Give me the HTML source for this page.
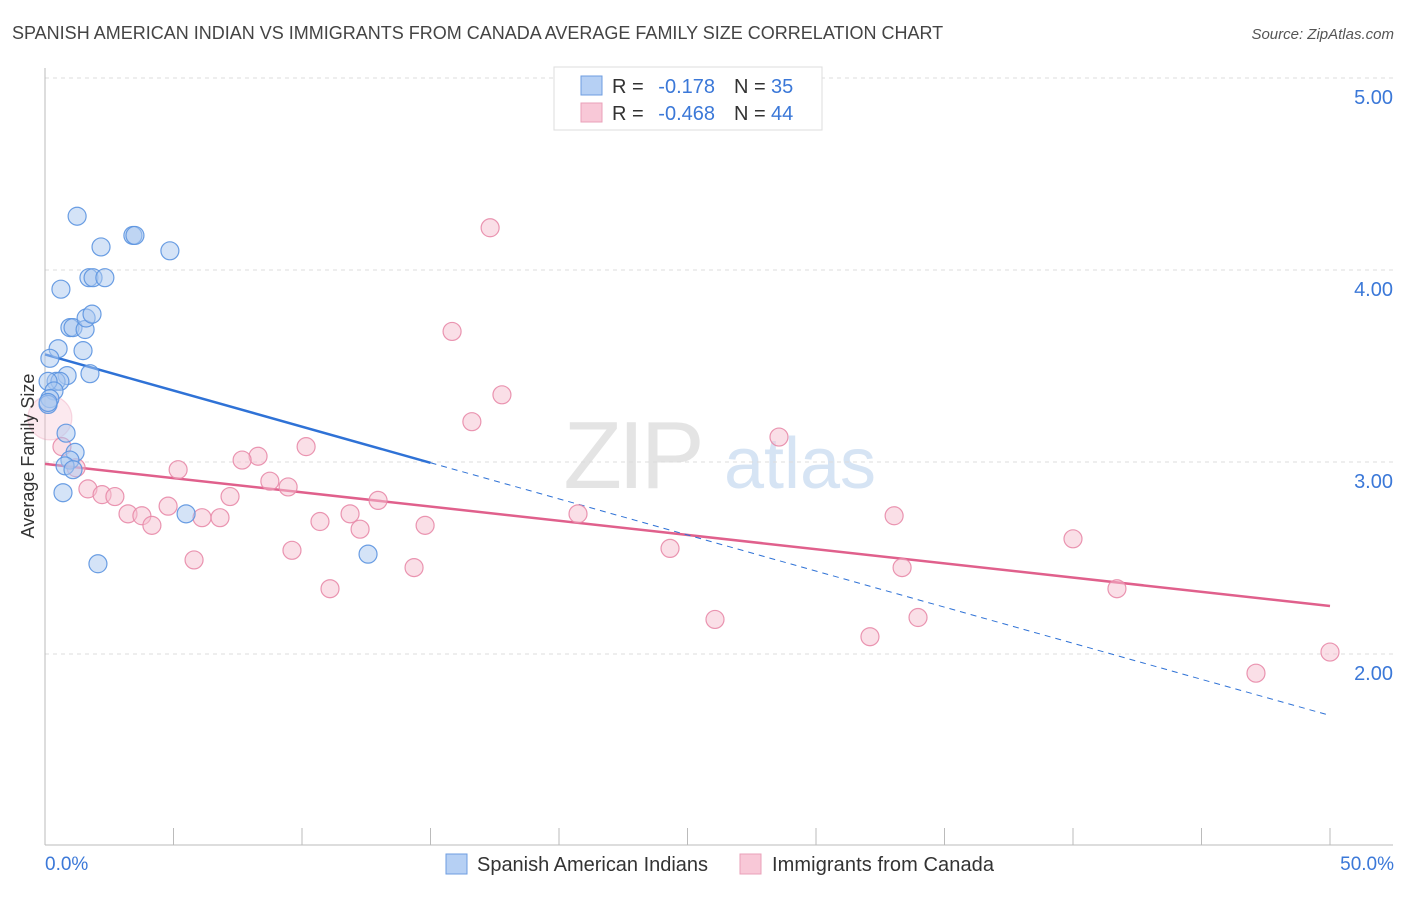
<!DOCTYPE html>
<html><head><meta charset="utf-8"><style>
body{margin:0;background:#fff;font-family:"Liberation Sans",sans-serif;}
svg text{font-family:"Liberation Sans",sans-serif;}
</style></head><body>
<svg id="chart" width="1406" height="892" xmlns="http://www.w3.org/2000/svg">
<text x="12" y="39" font-size="18" fill="#444">SPANISH AMERICAN INDIAN VS IMMIGRANTS FROM CANADA AVERAGE FAMILY SIZE CORRELATION CHART</text>
<text x="1394" y="39" font-size="15" fill="#555" text-anchor="end" font-style="italic">Source: ZipAtlas.com</text>
<g>
<text x="632" y="488" font-size="96" fill="#e4e4e4" font-family="Liberation Serif" text-anchor="middle" letter-spacing="-4">ZIP</text>
<text x="800" y="488" font-size="72" fill="#d6e4f4" text-anchor="middle">atlas</text>
</g>
<g id="grid"></g>
<g id="axes"></g>
<g id="trends"></g>
<g id="points"></g>
<text transform="translate(34,456) rotate(-90)" font-size="18" fill="#333" text-anchor="middle">Average Family Size</text>
<text x="45" y="870" font-size="19" fill="#3b78d8">0.0%</text>
<text x="1394" y="870" font-size="19" fill="#3b78d8" text-anchor="end">50.0%</text>
<g>
<rect x="554" y="67" width="268" height="63" fill="#fff" stroke="#ddd"/>
<rect x="581" y="76" width="21" height="19" fill="#b6d0f4" stroke="#6e9de0"/>
<rect x="581" y="103" width="21" height="19" fill="#f8c8d7" stroke="#eaa0b8"/>
<text x="612" y="93" font-size="20" fill="#333">R =</text>
<text x="715" y="93" font-size="20" fill="#3b78d8" text-anchor="end">-0.178</text>
<text x="734" y="93" font-size="20" fill="#333">N =</text>
<text x="771" y="93" font-size="20" fill="#3b78d8">35</text>
<text x="612" y="120" font-size="20" fill="#333">R =</text>
<text x="715" y="120" font-size="20" fill="#3b78d8" text-anchor="end">-0.468</text>
<text x="734" y="120" font-size="20" fill="#333">N =</text>
<text x="771" y="120" font-size="20" fill="#3b78d8">44</text>
</g>
<g>
<rect x="446" y="854" width="21" height="20" fill="#b6d0f4" stroke="#6e9de0"/>
<text x="477" y="871" font-size="20" fill="#333" textLength="231">Spanish American Indians</text>
<rect x="740" y="854" width="21" height="20" fill="#f8c8d7" stroke="#eaa0b8"/>
<text x="772" y="871" font-size="20" fill="#333" textLength="222">Immigrants from Canada</text>
</g>
</svg>
<script>
const yTicks=[2,3,4,5];
const yTickLabels=["2.00","3.00","4.00","5.00"];
const xTicks=[5,10,15,20,25,30,35,40,45,50];
const blueX=[1.25,2.18,3.42,3.50,4.86,1.71,1.87,2.33,0.62,0.97,1.09,1.56,1.60,1.83,1.48,0.51,0.19,0.86,1.75,0.43,0.58,0.12,0.35,0.19,0.12,0.82,1.17,0.97,0.78,1.09,0.70,5.49,12.57,2.06,0.12];
const blueY=[4.28,4.12,4.18,4.18,4.10,3.96,3.96,3.96,3.90,3.70,3.70,3.69,3.75,3.77,3.58,3.59,3.54,3.45,3.46,3.42,3.42,3.42,3.37,3.33,3.30,3.15,3.05,3.01,2.98,2.96,2.84,2.73,2.52,2.47,3.31];
const pinkX=[17.32,15.84,17.78,16.61,28.56,10.16,8.29,7.67,5.18,1.21,0.66,0.19,1.67,2.22,2.72,4.79,3.23,3.77,4.16,6.11,6.81,7.20,8.75,9.46,10.70,11.87,12.26,12.96,14.79,9.61,5.80,11.09,14.36,20.74,24.32,26.07,32.10,33.04,33.35,33.97,40.00,41.71,47.12,50.00];
const pinkY=[4.22,3.68,3.35,3.21,3.13,3.08,3.03,3.01,2.96,2.97,3.08,3.23,2.86,2.83,2.82,2.77,2.73,2.72,2.67,2.71,2.71,2.82,2.90,2.87,2.69,2.73,2.65,2.80,2.67,2.54,2.49,2.34,2.45,2.73,2.55,2.18,2.09,2.72,2.45,2.19,2.60,2.34,1.90,2.01];
const blueTrend=[3.56,-0.0376];
const pinkTrend=[2.99,-0.0148];
const blueSolidEnd=15;
const NS="http://www.w3.org/2000/svg";
function xs(v){return 45+v*25.7;}
function ys(v){return 78+(5-v)*192;}
function mk(tag,attrs,parent){const e=document.createElementNS(NS,tag);for(const k in attrs)e.setAttribute(k,attrs[k]);parent.appendChild(e);return e;}
const grid=document.getElementById('grid'),axes=document.getElementById('axes'),tr=document.getElementById('trends'),pts=document.getElementById('points');
yTicks.forEach((t,i)=>{
 const l=mk('line',{x1:45,x2:1393,y1:ys(t),y2:ys(t),stroke:'#ddd','stroke-dasharray':'4,4'},grid);
 
 
 const tx=mk('text',{x:1393,y:ys(t)+26,'font-size':20,fill:'#3b78d8','text-anchor':'end'},grid);
 tx.textContent=yTickLabels[i];
 
 
});
const ya=mk('line',{x1:45,x2:45,y1:68,y2:845,stroke:'#bbb'},axes);


const xa=mk('line',{x1:45,x2:1393,y1:845,y2:845,stroke:'#bbb'},axes);


xTicks.forEach(t=>{
 const l=mk('line',{x1:xs(t),x2:xs(t),y1:828,y2:845,stroke:'#bbb'},axes);
 
 
});
function drawPts(X,Y,fill,stroke,name){
 X.forEach((x,i)=>{
  const r=(name==='pink-point'&&i===11)?22:9;
  const c=mk('circle',{cx:xs(x),cy:ys(Y[i]),r:r,fill:fill,'fill-opacity':r>9?0.35:0.5,stroke:stroke,'stroke-opacity':r>9?0.3:0.9,'stroke-width':1.2},pts);
  
  
 });
}
drawPts(pinkX,pinkY,'#f6bfd0','#e88aa8','pink-point');
drawPts(blueX,blueY,'#a9c8f0','#5b93e0','blue-point');
const pl=mk('line',{x1:xs(0),y1:ys(pinkTrend[0]),x2:xs(50),y2:ys(pinkTrend[0]+pinkTrend[1]*50),stroke:'#e0608c','stroke-width':2.5},tr);


const bl=mk('line',{x1:xs(0),y1:ys(blueTrend[0]),x2:xs(blueSolidEnd),y2:ys(blueTrend[0]+blueTrend[1]*blueSolidEnd),stroke:'#2f72d6','stroke-width':2.5},tr);


const bd=mk('line',{x1:xs(blueSolidEnd),y1:ys(blueTrend[0]+blueTrend[1]*blueSolidEnd),x2:xs(50),y2:ys(blueTrend[0]+blueTrend[1]*50),stroke:'#2f72d6','stroke-width':1,'stroke-dasharray':'6,5'},tr);


</script>
</body></html>
